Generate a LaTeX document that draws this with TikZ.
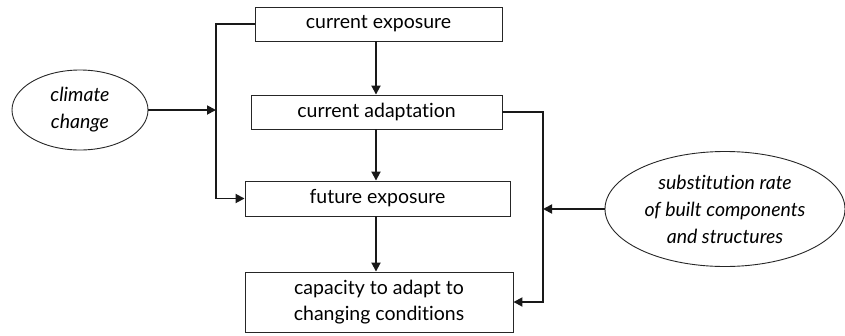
\documentclass[tikz,border=0pt]{standalone}
\usepackage{fontspec}
\setmainfont{Lato}[RawFeature={-liga;-dlig}]
\usetikzlibrary{arrows.meta,shapes.geometric}
\begin{document}
\begin{tikzpicture}[x=1pt,y=-1pt,
  box/.style={draw=black!85,line width=0.9pt,rectangle,inner sep=0pt,align=center,font=\fontsize{19.5}{26}\selectfont},
  oval/.style={draw=black!85,line width=0.9pt,ellipse,inner sep=0pt,align=center,font=\fontsize{19.5}{27}\selectfont\itshape},
  conn/.style={line width=1.8pt,draw=black!90},
  arr/.style={conn,-{Triangle[length=9pt,width=9pt]}}]
\useasboundingbox (0,0) rectangle (845,335);
\node[box,minimum width=247pt,minimum height=34pt] (ce) at (378.5,24) {current exposure};
\node[box,minimum width=251pt,minimum height=34pt] (ca) at (376.5,112) {current adaptation};
\node[box,minimum width=265pt,minimum height=35pt] (fe) at (377.5,198.5) {future exposure};
\node[box,minimum width=268pt,minimum height=60pt] (cap) at (379,302) {capacity to adapt to\\changing conditions};
\node[oval,minimum width=136pt,minimum height=80pt] (cc) at (80,110) {climate\\change};
\node[oval,minimum width=240pt,minimum height=115pt] (sr) at (725,209) {substitution rate\\of built components\\and structures};
\coordinate (axis) at (376,0);
\coordinate (lx) at (216,0);
\coordinate (rx) at (543,0);
\draw[arr] (ce.south -| axis) -- (ca.north -| axis);
\draw[arr] (ca.south -| axis) -- (fe.north -| axis);
\draw[arr] (fe.south -| axis) -- (cap.north -| axis);
\draw[arr] (ce.west) -- (ce.west -| lx) |- (fe.west);
\draw[arr] (cc.east) -- (cc.east -| lx);
\draw[arr] (ca.east) -- (ca.east -| rx) |- (cap.east);
\draw[arr] (sr.west) -- (sr.west -| rx);
\end{tikzpicture}
\end{document}
